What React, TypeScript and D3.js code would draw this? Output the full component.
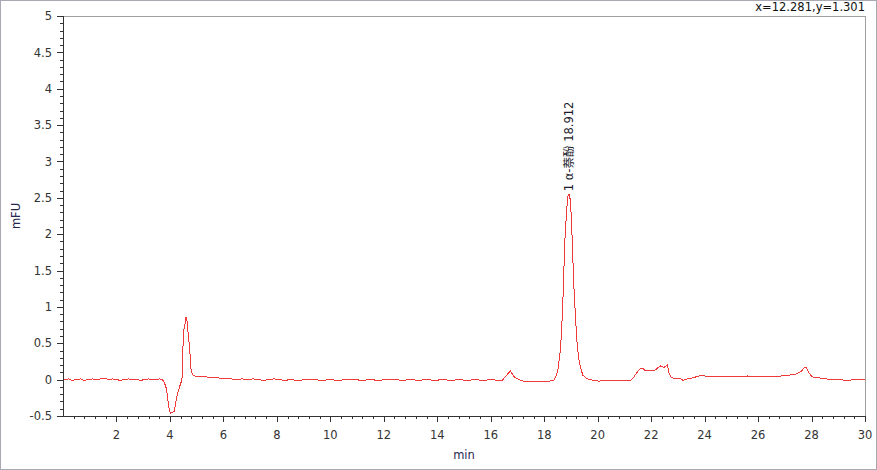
import React from "react";
import * as d3 from "d3";

const W = 877;
const H = 470;

// chromatogram trace (time in min, signal in mFU)
const times = [
  0.05, 0.2, 0.35, 0.5, 0.65, 0.8, 0.95, 1.1, 1.25, 1.4, 1.55, 1.7, 1.85, 2.0, 2.15, 2.3, 2.45, 2.6, 2.75, 2.9,
  3.05, 3.2, 3.35, 3.5, 3.62, 3.71, 3.78, 3.82, 3.88, 3.92, 3.98, 4.03, 4.1, 4.16, 4.19, 4.26, 4.36, 4.45, 4.48, 4.51,
  4.56, 4.58, 4.63, 4.66, 4.72, 4.76, 4.78, 4.84, 4.95, 5.1, 5.3, 5.5, 5.7, 5.9, 6.1, 6.3, 6.5, 6.7, 6.9, 7.1,
  7.3, 7.5, 7.7, 7.9, 8.1, 8.3, 8.5, 8.8, 9.1, 9.4, 9.7, 10.0, 10.3, 10.6, 10.9, 11.2, 11.5, 11.8, 12.1, 12.4,
  12.7, 13.0, 13.3, 13.6, 13.9, 14.2, 14.5, 14.8, 15.1, 15.4, 15.7, 16.0, 16.3, 16.43, 16.59, 16.74, 16.87, 17.05, 17.3, 17.6,
  17.9, 18.2, 18.36, 18.43, 18.51, 18.59, 18.64, 18.69, 18.73, 18.76, 18.81, 18.86, 18.9, 18.95, 18.99, 19.03, 19.07, 19.11, 19.15, 19.2,
  19.24, 19.3, 19.36, 19.45, 19.61, 19.86, 20.05, 20.3, 20.6, 20.9, 21.24, 21.36, 21.49, 21.6, 21.67, 21.76, 21.86, 22.0, 22.11, 22.24,
  22.36, 22.48, 22.61, 22.67, 22.76, 22.9, 23.1, 23.2, 23.36, 23.5, 23.7, 23.86, 24.0, 24.36, 24.7, 25.0, 25.3, 25.6, 25.9, 26.2,
  26.5, 26.85, 27.1, 27.35, 27.5, 27.6, 27.72, 27.79, 27.85, 27.91, 28.0, 28.1, 28.4, 28.73, 29.0, 29.35, 29.6, 29.85, 30.0,
];
const signal = [
  0.0, 0.01, -0.01, 0.0, 0.01, -0.01, 0.0, 0.01, 0.0, 0.01, 0.02, 0.0, 0.01, 0.0, -0.01, 0.0, 0.01, 0.0, 0.0, -0.01,
  0.0, 0.01, 0.0, 0.0, 0.01, 0.0, -0.03, -0.07, -0.14, -0.28, -0.43, -0.46, -0.45, -0.44, -0.37, -0.23, -0.1, 0.0, 0.36, 0.66,
  0.75, 0.85, 0.85, 0.71, 0.5, 0.31, 0.16, 0.07, 0.05, 0.04, 0.04, 0.03, 0.03, 0.02, 0.01, 0.01, 0.0, 0.01, 0.0, 0.01,
  0.0, -0.01, 0.0, 0.01, 0.0, -0.01, 0.0, -0.01, 0.0, 0.0, -0.01, 0.0, -0.01, 0.0, 0.0, -0.01, 0.0, -0.01, 0.0, 0.0,
  -0.01, 0.0, -0.01, 0.0, -0.01, 0.0, -0.01, 0.0, -0.01, 0.0, -0.01, 0.0, -0.01, -0.01, 0.06, 0.12, 0.04, 0.0, -0.03, -0.02,
  -0.02, -0.02, -0.01, 0.04, 0.13, 0.36, 0.59, 1.0, 1.41, 1.83, 2.15, 2.42, 2.55, 2.55, 2.4, 2.1, 1.69, 1.28, 1.0, 0.68,
  0.45, 0.27, 0.16, 0.06, 0.01, -0.01, -0.02, -0.01, -0.01, -0.01, -0.01, 0.04, 0.11, 0.15, 0.16, 0.13, 0.12, 0.12, 0.12, 0.16,
  0.19, 0.17, 0.2, 0.09, 0.03, 0.01, 0.01, -0.01, 0.01, 0.02, 0.04, 0.06, 0.05, 0.05, 0.04, 0.05, 0.04, 0.05, 0.04, 0.05,
  0.05, 0.05, 0.06, 0.07, 0.09, 0.11, 0.16, 0.17, 0.13, 0.09, 0.05, 0.03, 0.02, 0.0, 0.0, -0.01, 0.0, 0.0, 0.0,
];

const yMajor = [-0.5, 0, 0.5, 1, 1.5, 2, 2.5, 3, 3.5, 4, 4.5, 5];
const yLabels = ["-0.5", "0", "0.5", "1", "1.5", "2", "2.5", "3", "3.5", "4", "4.5", "5"];
const xMajor = [2, 4, 6, 8, 10, 12, 14, 16, 18, 20, 22, 24, 26, 28, 30];

const peakTime = 18.912;
const peakValue = 2.55;
const peakLabel = "1 α-萘酚 18.912";
const cursorText = "x=12.281,y=1.301";

const FONT = "'DejaVu Sans', 'Noto Sans CJK SC', sans-serif";

export default function App() {
  const left = 63, right = 865, top = 16, bottom = 416;
  const x = d3.scaleLinear().domain([0, 30]).range([left, right]);
  const y = d3.scaleLinear().domain([-0.5, 5]).range([bottom, top]);

  const pts: [number, number][] = times.map((t, i) => [t, signal[i]]);
  const line = d3
    .line<[number, number]>()
    .x((d) => x(d[0]))
    .y((d) => y(d[1]));

  const yMinor = d3.range(-5, 51).map((i) => i / 10).filter((v) => Math.abs(v * 2 - Math.round(v * 2)) > 1e-6);
  const xMinor = d3.range(1, 76).map((i) => i * 0.4).filter((v) => Math.abs(v / 2 - Math.round(v / 2)) > 1e-6 && v < 30);

  const axisColor = "#333333";
  const textColor = "#333333";

  return (
    <svg
      width={W}
      height={H}
      style={{ position: "absolute", left: 0, top: 0, background: "#fff" }}
      fontFamily={FONT}
    >
      <rect x={0.5} y={0.5} width={W - 1} height={H - 1} fill="#fff" stroke="#a9a9b4" />
      {/* frame */}
      <line x1={left} x2={right + 0.5} y1={top + 0.5} y2={top + 0.5} stroke="#a0a0a0" />
      <line x1={right + 0.5} x2={right + 0.5} y1={top} y2={bottom} stroke="#a0a0a0" />
      {/* axes */}
      <line x1={left + 0.5} x2={left + 0.5} y1={top} y2={bottom + 0.5} stroke={axisColor} />
      <line x1={left} x2={right + 1} y1={bottom + 0.5} y2={bottom + 0.5} stroke={axisColor} />

      {yMajor.map((v, i) => (
        <g key={"ym" + i}>
          <line x1={left - 6} x2={left} y1={Math.round(y(v)) + 0.5} y2={Math.round(y(v)) + 0.5} stroke={axisColor} />
          <text x={left - 11} y={y(v)} dy="0.36em" textAnchor="end" fontSize={11.5} fill={textColor}>
            {yLabels[i]}
          </text>
        </g>
      ))}
      {yMinor.map((v, i) => (
        <line key={"yn" + i} x1={left - 3} x2={left} y1={Math.round(y(v)) + 0.5} y2={Math.round(y(v)) + 0.5} stroke={axisColor} />
      ))}
      {xMajor.map((v, i) => (
        <g key={"xm" + i}>
          <line x1={Math.round(x(v)) + 0.5} x2={Math.round(x(v)) + 0.5} y1={bottom} y2={bottom + 6} stroke={axisColor} />
          <text x={x(v)} y={439} textAnchor="middle" fontSize={11.5} fill={textColor}>
            {v}
          </text>
        </g>
      ))}
      {xMinor.map((v, i) => (
        <line key={"xn" + i} x1={Math.round(x(v)) + 0.5} x2={Math.round(x(v)) + 0.5} y1={bottom} y2={bottom + 3} stroke={axisColor} />
      ))}

      <text x={464} y={459} textAnchor="middle" fontSize={11.5} fill="#262650">
        min
      </text>
      <text transform={`translate(20,216) rotate(-90)`} textAnchor="middle" fontSize={11.5} fill="#262650">
        mFU
      </text>

      <path d={line(pts) || ""} fill="none" stroke="#f03a3a" strokeWidth={1} shapeRendering="crispEdges" />

      <text
        transform={`translate(${x(peakTime) + 4},${y(peakValue) - 3}) rotate(-90)`}
        textAnchor="start"
        fontSize={11.5}
        fill="#1a1a2a"
      >
        {peakLabel}
      </text>

      <text x={right} y={11} textAnchor="end" fontSize={11.5} fill="#111">
        {cursorText}
      </text>
    </svg>
  );
}
